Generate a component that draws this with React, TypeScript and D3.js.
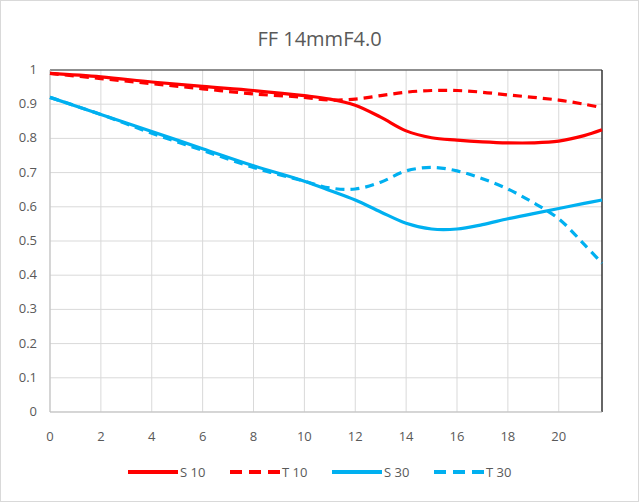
import React from 'react';
import * as d3 from 'd3';

const xs = [0, 2, 4, 6, 8, 10, 11, 12, 13, 14, 15, 16, 17, 18, 19, 20, 21, 21.7];
const s10 = [0.99, 0.98, 0.965, 0.952, 0.94, 0.925, 0.915, 0.897, 0.862, 0.822, 0.802, 0.795, 0.79, 0.787, 0.787, 0.792, 0.808, 0.825];
const t10 = [0.99, 0.975, 0.96, 0.945, 0.93, 0.92, 0.912, 0.915, 0.925, 0.935, 0.94, 0.94, 0.935, 0.927, 0.92, 0.912, 0.9, 0.89];
const s30 = [0.92, 0.87, 0.82, 0.77, 0.72, 0.675, 0.648, 0.62, 0.585, 0.552, 0.535, 0.535, 0.548, 0.565, 0.58, 0.595, 0.61, 0.62];
const t30 = [0.92, 0.87, 0.815, 0.765, 0.715, 0.675, 0.655, 0.652, 0.672, 0.705, 0.715, 0.705, 0.682, 0.652, 0.612, 0.565, 0.49, 0.435];
const xTicks = [0, 2, 4, 6, 8, 10, 12, 14, 16, 18, 20];
const yTicks = [0, 0.1, 0.2, 0.3, 0.4, 0.5, 0.6, 0.7, 0.8, 0.9, 1];
const series = [
  { name: 'S 10', values: s10, color: '#ff0000', dash: '' },
  { name: 'T 10', values: t10, color: '#ff0000', dash: '9,6' },
  { name: 'S 30', values: s30, color: '#00b0f0', dash: '' },
  { name: 'T 30', values: t30, color: '#00b0f0', dash: '9,6' },
];

const W = 639, H = 502;
const m = { left: 50, right: 37, top: 70, bottom: 90 };
const font = '"Open Sans", sans-serif';

export default function App() {
  const x = d3.scaleLinear().domain([0, 21.7]).range([m.left, W - m.right]);
  const y = d3.scaleLinear().domain([0, 1]).range([H - m.bottom, m.top]);
  const line = d3.line<number>().x((_, i) => x(xs[i])).y(d => y(d)).curve(d3.curveCatmullRom.alpha(0.5));
  return (
    <svg width={W} height={H} style={{ position: 'fixed', left: 0, top: 0, background: '#fff' }}>
      <rect x={0.5} y={0.5} width={W - 1} height={H - 1} fill="#fff" stroke="#d9d9d9" />
      <text x={W / 2} y={46} textAnchor="middle" fontFamily={font} fontSize={20} fill="#595959">FF 14mmF4.0</text>
      {xTicks.map(t => <line key={'x' + t} x1={x(t)} x2={x(t)} y1={y(0)} y2={y(1)} stroke="#d9d9d9" />)}
      {yTicks.map(t => <line key={'y' + t} x1={x(0)} x2={x(21.7)} y1={y(t)} y2={y(t)} stroke="#d9d9d9" />)}
      <line x1={x(0)} x2={x(21.7)} y1={y(1)} y2={y(1)} stroke="#333" />
      <line x1={x(21.7)} x2={x(21.7)} y1={y(1)} y2={y(0)} stroke="#333" strokeWidth={1.5} />
      <line x1={x(0)} x2={x(0)} y1={y(1)} y2={y(0)} stroke="#bfbfbf" />
      <line x1={x(0)} x2={x(21.7)} y1={y(0)} y2={y(0)} stroke="#bfbfbf" />
      {xTicks.map(t => <text key={'xl' + t} x={x(t)} y={y(0) + 29} textAnchor="middle" fontFamily={font} fontSize={13} fill="#595959">{t}</text>)}
      {yTicks.map(t => <text key={'yl' + t} x={x(0) - 13} y={y(t) + 4} textAnchor="end" fontFamily={font} fontSize={13} fill="#595959">{t}</text>)}
      {series.map(s => <path key={s.name} d={line(s.values) || ''} fill="none" stroke={s.color} strokeWidth={3.2} strokeDasharray={s.dash} />)}
      {series.map((s, i) => {
        const lx = 128 + i * 102;
        return (
          <g key={'lg' + s.name}>
            <line x1={lx} x2={lx + 50} y1={472} y2={472} stroke={s.color} strokeWidth={4} strokeDasharray={s.dash ? '12,7' : ''} />
            <text x={lx + 52} y={477} fontFamily={font} fontSize={13} fill="#595959">{s.name}</text>
          </g>
        );
      })}
    </svg>
  );
}
